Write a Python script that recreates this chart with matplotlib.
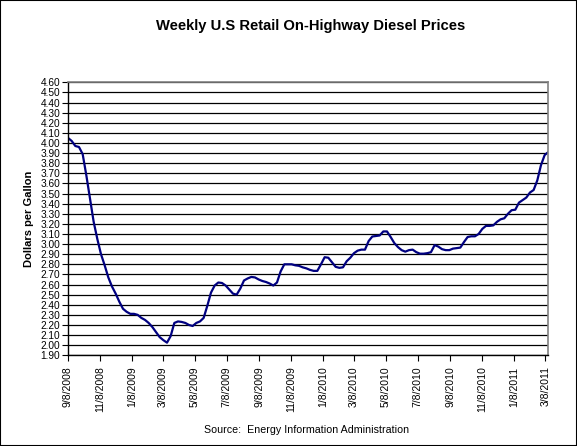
import matplotlib
matplotlib.use("Agg")
import matplotlib.pyplot as plt
import matplotlib.dates as mdates
from matplotlib.patches import Rectangle
import numpy as np
import pandas as pd

# weekly retail diesel prices, Mondays starting 9/8/2008
first_week = "2008-09-08"
prices_2008 = [4.05, 4.02, 3.97, 3.96, 3.89, 3.68, 3.45, 3.22, 3.05, 2.90,
               2.79, 2.67, 2.58, 2.51, 2.43, 2.36, 2.33]
prices_2009 = [2.31, 2.31, 2.30, 2.27, 2.25, 2.22, 2.18, 2.13, 2.08, 2.05,
               2.025, 2.09, 2.22, 2.235, 2.23, 2.22, 2.20, 2.19, 2.22, 2.235,
               2.27, 2.39, 2.52, 2.59, 2.62, 2.615, 2.59, 2.55, 2.51, 2.50,
               2.56, 2.64, 2.66, 2.675, 2.67, 2.65, 2.635, 2.625, 2.61, 2.59,
               2.62, 2.73, 2.80, 2.80, 2.80, 2.79, 2.785, 2.77, 2.76, 2.745,
               2.735, 2.735]
prices_2010 = [2.80, 2.87, 2.865, 2.82, 2.775, 2.765, 2.77, 2.83, 2.865, 2.91,
               2.935, 2.945, 2.945, 3.03, 3.075, 3.08, 3.085, 3.125, 3.125, 3.07,
               3.01, 2.97, 2.94, 2.925, 2.94, 2.945, 2.92, 2.905, 2.905, 2.91,
               2.92, 2.99, 2.975, 2.95, 2.94, 2.94, 2.955, 2.96, 2.965, 3.02,
               3.07, 3.077, 3.077, 3.10, 3.15, 3.18, 3.18, 3.185, 3.22, 3.245,
               3.255, 3.30]
prices_2011 = [3.335, 3.34, 3.41, 3.435, 3.46, 3.51, 3.535, 3.63, 3.78, 3.88, 3.91]

tick_labels = ["9/8/2008", "11/8/2008", "1/8/2009", "3/8/2009", "5/8/2009",
               "7/8/2009", "9/8/2009", "11/8/2009", "1/8/2010", "3/8/2010",
               "5/8/2010", "7/8/2010", "9/8/2010", "11/8/2010", "1/8/2011",
               "3/8/2011"]

prices = prices_2008 + prices_2009 + prices_2010 + prices_2011
weeks = pd.date_range(first_week, periods=len(prices), freq="7D")
tick_dates = pd.to_datetime(tick_labels, format="%m/%d/%Y")

plt.rcParams["font.family"] = ["Liberation Sans", "DejaVu Sans"]

fig = plt.figure(figsize=(5.77, 4.46), dpi=100)
ax = fig.add_axes([68 / 577, 1 - 355.3 / 446, 480.3 / 577, 273 / 446])

ax.plot(weeks, prices, color="#000080", lw=1.6)

ax.set_xlim(weeks[0], weeks[-1])
ax.set_ylim(1.90, 4.60)
ax.set_yticks(np.round(np.arange(1.90, 4.601, 0.10), 2))
ax.yaxis.set_major_formatter(plt.FormatStrFormatter("%.2f"))
ax.grid(axis="y", color="black", lw=0.9)
ax.set_axisbelow(True)

ax.set_xticks(tick_dates)
ax.set_xticklabels(tick_labels, rotation=90, fontsize=7.5)
ax.tick_params(axis="y", labelsize=7.3, length=4, width=0.8, pad=1.5)
ax.tick_params(axis="x", length=4, width=0.8, pad=4)

for side in ("top", "right"):
    ax.spines[side].set_color("#808080")
    ax.spines[side].set_linewidth(1.2)
for side in ("left", "bottom"):
    ax.spines[side].set_color("black")
    ax.spines[side].set_linewidth(1.0)

ax.set_ylabel("Dollars per Gallon", fontsize=8, fontweight="bold", labelpad=5)

fig.text(0.538, 0.942, "Weekly U.S Retail On-Highway Diesel Prices",
         ha="center", va="center", fontsize=10.6, fontweight="bold")
fig.text(0.531, 0.036, "Source:  Energy Information Administration",
         ha="center", va="center", fontsize=7.7)

fig.patches.append(Rectangle((0, 0), 1, 1, transform=fig.transFigure,
                             fill=False, edgecolor="black", lw=1.5))

fig.savefig("out.png", dpi=100)
